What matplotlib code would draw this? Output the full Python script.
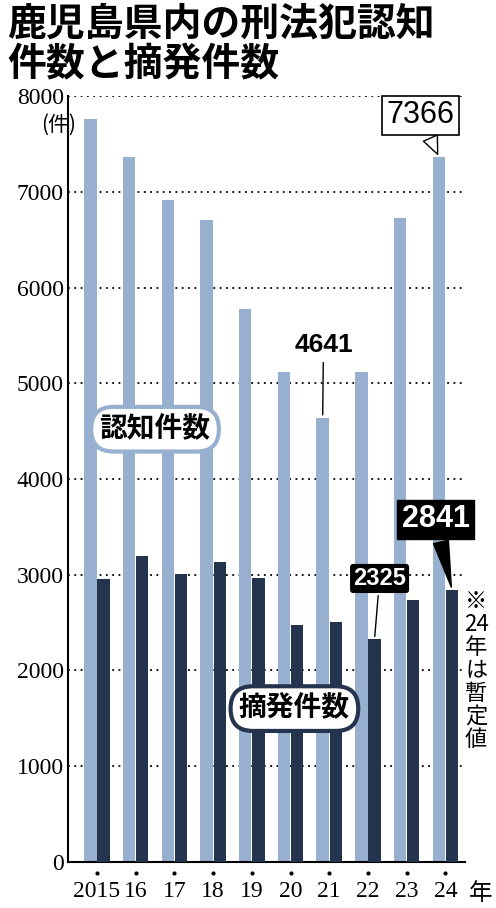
import matplotlib
matplotlib.use("Agg")
import matplotlib.pyplot as plt
import numpy as np

plt.rcParams['font.family'] = ['Noto Sans CJK JP', 'DejaVu Sans']

years = ["2015", "16", "17", "18", "19", "20", "21", "22", "23", "24"]
ninchi = [7760, 7360, 6920, 6710, 5780, 5120, 4641, 5120, 6730, 7366]
tekihatsu = [2950, 3200, 3010, 3130, 2970, 2470, 2500, 2325, 2740, 2841]

light = "#98b0d0"
dark = "#24344e"

fig = plt.figure(figsize=(4.96, 9.08), dpi=100)
ax = fig.add_axes([0.137, 0.051, 0.8, 0.843])
x = np.arange(len(years))
w = 0.32
ax.bar(x - 0.17, ninchi, w, color=light, zorder=2)
ax.bar(x + 0.17, tekihatsu, w, color=dark, zorder=3)
ax.set_ylim(0, 8000)
ax.set_xlim(-0.75, 9.5)
ax.set_yticks(range(0, 8001, 1000))
ax.set_yticklabels([str(v) for v in range(0, 8001, 1000)], fontsize=17, family='Liberation Serif')
ax.set_xticks(x)
ax.set_xticklabels(years, fontsize=17, family='Liberation Serif')
ax.tick_params(axis='x', length=0, pad=14)
ax.tick_params(axis='y', length=0, pad=3)
for s in ['top', 'right']:
    ax.spines[s].set_visible(False)
ax.spines['left'].set_linewidth(1.5)
ax.spines['bottom'].set_linewidth(1.5)
for v in range(1000, 8001, 1000):
    ax.axhline(v, color='black', ls=(0, (1, 2.5)), lw=1.3, zorder=1)
ax.plot(x, [-120]*len(x), 'k.', ms=4, clip_on=False)
ax.text(-1.0, 7700, "(件)", fontsize=15, ha='center', va='center')
ax.text(9.9, -330, "年", fontsize=17, ha='center', va='center')

fig.text(0.015, 0.995, "鹿児島県内の刑法犯認知\n件数と摘発件数", fontsize=28, fontweight='bold',
         va='top', ha='left', linespacing=1.05)

ax.text(1.5, 4520, "認知件数", fontsize=20, fontweight='bold', ha='center', va='center', zorder=5,
        bbox=dict(boxstyle='round,pad=0.3,rounding_size=0.8', fc='white', ec=light, lw=3))
ax.text(5.1, 1600, "摘発件数", fontsize=20, fontweight='bold', ha='center', va='center', zorder=5,
        bbox=dict(boxstyle='round,pad=0.3,rounding_size=0.8', fc='white', ec=dark, lw=3))

ax.annotate("4641", xy=(6 - 0.17, ninchi[6]), xytext=(5.85, 5400), fontsize=19, fontweight='bold',
            family='Liberation Sans', ha='center', va='center', arrowprops=dict(arrowstyle='-', lw=1))
ax.annotate("2325", xy=(7 + 0.17, tekihatsu[7]), xytext=(7.3, 2960), fontsize=17, fontweight='bold',
            family='Liberation Sans', ha='center', va='center', color='white', zorder=6,
            bbox=dict(boxstyle='round,pad=0.1', fc='black', ec='black'),
            arrowprops=dict(arrowstyle='-', lw=1))
ax.annotate("2841", xy=(9 + 0.17, tekihatsu[9]), xytext=(8.75, 3580), fontsize=22, fontweight='bold',
            family='Liberation Sans', ha='center', va='center', color='white', zorder=6,
            bbox=dict(boxstyle='square,pad=0.15', fc='black', ec='black'),
            arrowprops=dict(arrowstyle='wedge,tail_width=0.5', fc='black', lw=1))
ax.annotate("7366", xy=(9 - 0.17, ninchi[9]), xytext=(8.35, 7800), fontsize=22,
            family='Liberation Sans', ha='center', va='center', zorder=6,
            bbox=dict(boxstyle='square,pad=0.15', fc='white', ec='black', lw=1.2),
            arrowprops=dict(arrowstyle='wedge,tail_width=0.5', fc='white', ec='black', lw=1))

fig.text(0.96, 0.262, "※\n24\n年\nは\n暫\n定\n値", fontsize=16, ha='center', va='center', linespacing=1.0)

fig.savefig("out.png", dpi=100)
